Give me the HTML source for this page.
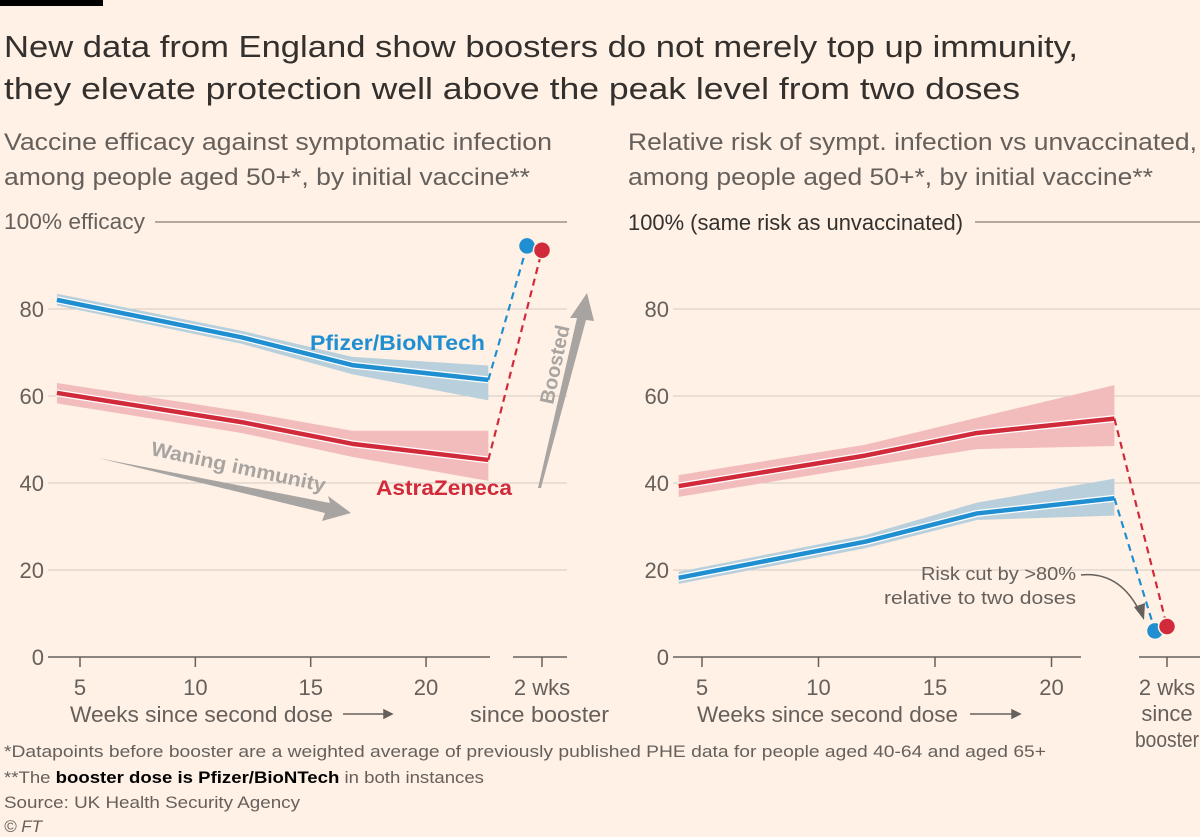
<!DOCTYPE html>
<html><head><meta charset="utf-8">
<style>
html,body{margin:0;padding:0;background:#fff1e5;}
svg{display:block;font-family:"Liberation Sans",sans-serif;}
</style></head>
<body>
<svg id="c" width="1200" height="837" viewBox="0 0 1200 837" xmlns="http://www.w3.org/2000/svg">
<rect width="1200" height="837" fill="#fff1e5"/>
<rect x="0" y="0" width="103" height="6" fill="#000"/>
<text x="4" y="57" font-size="31" fill="#33302e" textLength="1074" lengthAdjust="spacingAndGlyphs">New data from England show boosters do not merely top up immunity,</text>
<text x="4" y="99" font-size="31" fill="#33302e" textLength="1016" lengthAdjust="spacingAndGlyphs">they elevate protection well above the peak level from two doses</text>
<text x="4" y="150" font-size="24" fill="#66605c" textLength="548" lengthAdjust="spacingAndGlyphs">Vaccine efficacy against symptomatic infection</text>
<text x="4" y="185" font-size="24" fill="#66605c" textLength="526" lengthAdjust="spacingAndGlyphs">among people aged 50+*, by initial vaccine**</text>
<text x="628" y="150" font-size="24" fill="#66605c" textLength="569" lengthAdjust="spacingAndGlyphs">Relative risk of sympt. infection vs unvaccinated,</text>
<text x="628" y="185" font-size="24" fill="#66605c" textLength="525" lengthAdjust="spacingAndGlyphs">among people aged 50+*, by initial vaccine**</text>
<g id="L"></g><g id="R"></g>
<text x="4" y="757" font-size="17" fill="#66605c" textLength="1042" lengthAdjust="spacingAndGlyphs">*Datapoints before booster are a weighted average of previously published PHE data for people aged 40-64 and aged 65+</text>
<text x="4" y="783" font-size="17" fill="#66605c" textLength="480" lengthAdjust="spacingAndGlyphs">**The <tspan fill="#000" font-weight="bold">booster dose is Pfizer/BioNTech</tspan> in both instances</text>
<text x="4" y="808" font-size="17" fill="#66605c" textLength="296" lengthAdjust="spacingAndGlyphs">Source: UK Health Security Agency</text>
<text x="4" y="832" font-size="17" fill="#66605c" font-style="italic">© FT</text>
</svg>
<script>
const weeks = [4, 12, 16.8, 22.7];
const xTicks = [5, 10, 15, 20];
const yTicks = [0, 20, 40, 60, 80];
const leftPfizer = [82.1, 73.5, 67.1, 63.7];
const leftPfizerLo = [80.8, 72, 65, 59];
const leftPfizerHi = [83.5, 75, 69, 67];
const leftAZ = [60.7, 54, 49, 45.3];
const leftAZLo = [58.3, 51.5, 46, 40.5];
const leftAZHi = [63, 56.5, 52, 52];
const leftBoost = [94.5, 93.5];
const rightPfizer = [18.2, 26.5, 33, 36.5];
const rightPfizerLo = [16.8, 25, 31.5, 32.5];
const rightPfizerHi = [19.6, 28, 35.5, 41];
const rightAZ = [39.3, 46.3, 51.5, 54.8];
const rightAZLo = [36.8, 43.8, 47.8, 48.5];
const rightAZHi = [41.8, 48.8, 55, 62.5];
const rightBoost = [6, 7];

const NS = "http://www.w3.org/2000/svg";
const BLUE = "#1f8fd2", RED = "#d12a3a", BBAND = "#b9d0dc", RBAND = "#f3bcbc";
function mk(parent, tag, attrs, text) {
  const e = document.createElementNS(NS, tag);
  for (const k in attrs) e.setAttribute(k, attrs[k]);
  if (text !== undefined) e.textContent = text;
  parent.appendChild(e);
  return e;
}
function y(v) { return 657 - v * 4.35; }

function panel(g, x5, perWk, gridL, gridR, baseEnd, b2Start, b2x, boostDx, pf, pfLo, pfHi, az, azLo, azHi, boost, xlX, xlW) {
  const x = w => x5 + (w - 5) * perWk;
  yTicks.forEach(t => {
    if (t > 0) {
      const l = mk(g, "line", {x1: gridL, x2: gridR, y1: y(t), y2: y(t), stroke: "#d4ccc4", "stroke-width": 1});
      
      
    }
    const tx = mk(g, "text", {x: gridL - 4, y: y(t) + 8, "font-size": 22, fill: "#66605c", "text-anchor": "end"}, String(t));
    
    
  });
  const base = mk(g, "path", {d: `M${gridL},657H${baseEnd}M${b2Start},657H${gridR}`, stroke: "#66605c", "stroke-width": 1.5, fill: "none"});
  
  
  xTicks.forEach(t => {
    const l = mk(g, "line", {x1: x(t), x2: x(t), y1: 657, y2: 667, stroke: "#66605c", "stroke-width": 1.5});
    
    
    const tx = mk(g, "text", {x: x(t), y: 695, "font-size": 22, fill: "#66605c", "text-anchor": "middle"}, String(t));
    
    
  });
  const bt = mk(g, "line", {x1: b2x, x2: b2x, y1: 657, y2: 667, stroke: "#66605c", "stroke-width": 1.5});
  
  

  function band(lo, hi, col, name) {
    let d = "M" + weeks.map((w, i) => x(w) + "," + y(hi[i])).join("L");
    d += "L" + weeks.slice().reverse().map((w, i) => x(w) + "," + y(lo[weeks.length - 1 - i])).join("L") + "Z";
    const p = mk(g, "path", {d: d, fill: col});
    
    
  }
  function line(v, col, name) {
    const d = "M" + weeks.map((w, i) => x(w) + "," + y(v[i])).join("L");
    mk(g, "path", {d: d, stroke: "#fff", "stroke-width": 7, fill: "none", "stroke-linejoin": "round"});
    const p = mk(g, "path", {d: d, stroke: col, "stroke-width": 4.5, fill: "none", "stroke-linejoin": "round"});
    
    
  }
  band(pfLo, pfHi, BBAND, 'pfizer-ci-band');
  band(azLo, azHi, RBAND, 'astrazeneca-ci-band');
  line(pf, BLUE, 'pfizer-line');
  line(az, RED, 'astrazeneca-line');
  const xe = x(weeks[weeks.length - 1]);
  const bx = [b2x - boostDx, b2x];
  [[pf, BLUE, 0, 'pfizer'], [az, RED, 1, 'astrazeneca']].forEach(([s, col, i, nm]) => {
    const dl = mk(g, "line", {x1: xe, y1: y(s[s.length - 1]), x2: bx[i], y2: y(boost[i]), stroke: col, "stroke-width": 2.2, "stroke-dasharray": "7,5"});
    
    
  });
  [[BLUE, 0, 'pfizer'], [RED, 1, 'astrazeneca']].forEach(([col, i, nm]) => {
    const c = mk(g, "circle", {cx: bx[i], cy: y(boost[i]), r: 8.5, fill: col, stroke: "#fff1e5", "stroke-width": 1.5});
    
    
  });
  const xl = mk(g, "text", {x: xlX, y: 722, "font-size": 22, fill: "#66605c", textLength: xlW, lengthAdjust: "spacingAndGlyphs"}, "Weeks since second dose");
  
  
}

const L = document.getElementById("L");
panel(L, 80, 23.07, 48, 567, 490, 513, 542, 15, leftPfizer, leftPfizerLo, leftPfizerHi, leftAZ, leftAZLo, leftAZHi, leftBoost, 70, 263);
const R = document.getElementById("R");
panel(R, 702, 23.3, 673, 1200, 1081, 1139, 1167, 12, rightPfizer, rightPfizerLo, rightPfizerHi, rightAZ, rightAZLo, rightAZHi, rightBoost, 697, 261);

function txt(g, attrs, s, name) {
  const t = mk(g, "text", attrs, s);
  
  
  return t;
}
// left extras
txt(L, {x: 4, y: 229, "font-size": 22, fill: "#66605c", textLength: 141, lengthAdjust: "spacingAndGlyphs"}, "100% efficacy", 'left-100-label');
const l100 = mk(L, "line", {x1: 155, x2: 567, y1: 222, y2: 222, stroke: "#66605c", "stroke-width": 1});


txt(L, {x: 310, y: 350, "font-size": 21, "font-weight": "bold", fill: BLUE, textLength: 175, lengthAdjust: "spacingAndGlyphs"}, "Pfizer/BioNTech", 'pfizer-label');
txt(L, {x: 376, y: 495, "font-size": 21, "font-weight": "bold", fill: RED, textLength: 136, lengthAdjust: "spacingAndGlyphs"}, "AstraZeneca", 'astrazeneca-label');
const wa = mk(L, "path", {d: "M98,458 L330,503 L328,496 L351,513 L322,521 L325,513 Z", fill: "#a8a4a2"});


txt(L, {x: 150, y: 455, "font-size": 20, "font-weight": "bold", fill: "#a8a4a2", transform: "rotate(12 150 455)", textLength: 178, lengthAdjust: "spacingAndGlyphs"}, "Waning immunity", 'waning-label');
const ba = mk(L, "path", {d: "M538,488 L577,318 L570,318 L587,293 L594,321 L586,320 L541,488 Z", fill: "#a8a4a2"});


txt(L, {x: 553, y: 405, "font-size": 20, "font-weight": "bold", fill: "#a8a4a2", transform: "rotate(-78 553 405)"}, "Boosted", 'boosted-label');
txt(L, {x: 542, y: 695, "font-size": 22, fill: "#66605c", "text-anchor": "middle"}, "2 wks", 'booster-tick-label');
txt(L, {x: 470, y: 722, "font-size": 22, fill: "#66605c", textLength: 139, lengthAdjust: "spacingAndGlyphs"}, "since booster", 'booster-axis-label');
const ar1 = mk(L, "path", {d: "M343,714 H384 M384,710 L392,714 L384,718 Z", stroke: "#66605c", "stroke-width": 1.5, fill: "#66605c"});


// right extras
txt(R, {x: 628, y: 230, "font-size": 22, fill: "#33302e", textLength: 335, lengthAdjust: "spacingAndGlyphs"}, "100% (same risk as unvaccinated)", 'right-100-label');
const r100 = mk(R, "line", {x1: 975, x2: 1200, y1: 222, y2: 222, stroke: "#66605c", "stroke-width": 1});


txt(R, {x: 1076, y: 580, "font-size": 18, fill: "#66605c", "text-anchor": "end", textLength: 155, lengthAdjust: "spacingAndGlyphs"}, "Risk cut by >80%", 'annotation-line-1');
txt(R, {x: 1076, y: 604, "font-size": 18, fill: "#66605c", "text-anchor": "end", textLength: 192, lengthAdjust: "spacingAndGlyphs"}, "relative to two doses", 'annotation-line-2');
const ann = mk(R, "path", {d: "M1081,575 C1110,572 1128,588 1140,612", stroke: "#66605c", "stroke-width": 1.5, fill: "none"});


mk(R, "path", {d: "M1134,607 L1144,620 L1145,603 Z", fill: "#66605c"});
txt(R, {x: 1167, y: 695, "font-size": 22, fill: "#66605c", "text-anchor": "middle"}, "2 wks", 'booster-tick-label-right');
txt(R, {x: 1167, y: 721, "font-size": 22, fill: "#66605c", "text-anchor": "middle"}, "since", 'booster-axis-label-right-1');
txt(R, {x: 1167, y: 747, "font-size": 22, fill: "#66605c", "text-anchor": "middle", textLength: 64, lengthAdjust: "spacingAndGlyphs"}, "booster", 'booster-axis-label-right-2');
const ar2 = mk(R, "path", {d: "M970,714 H1012 M1012,710 L1020,714 L1012,718 Z", stroke: "#66605c", "stroke-width": 1.5, fill: "#66605c"});


</script>
</body></html>
